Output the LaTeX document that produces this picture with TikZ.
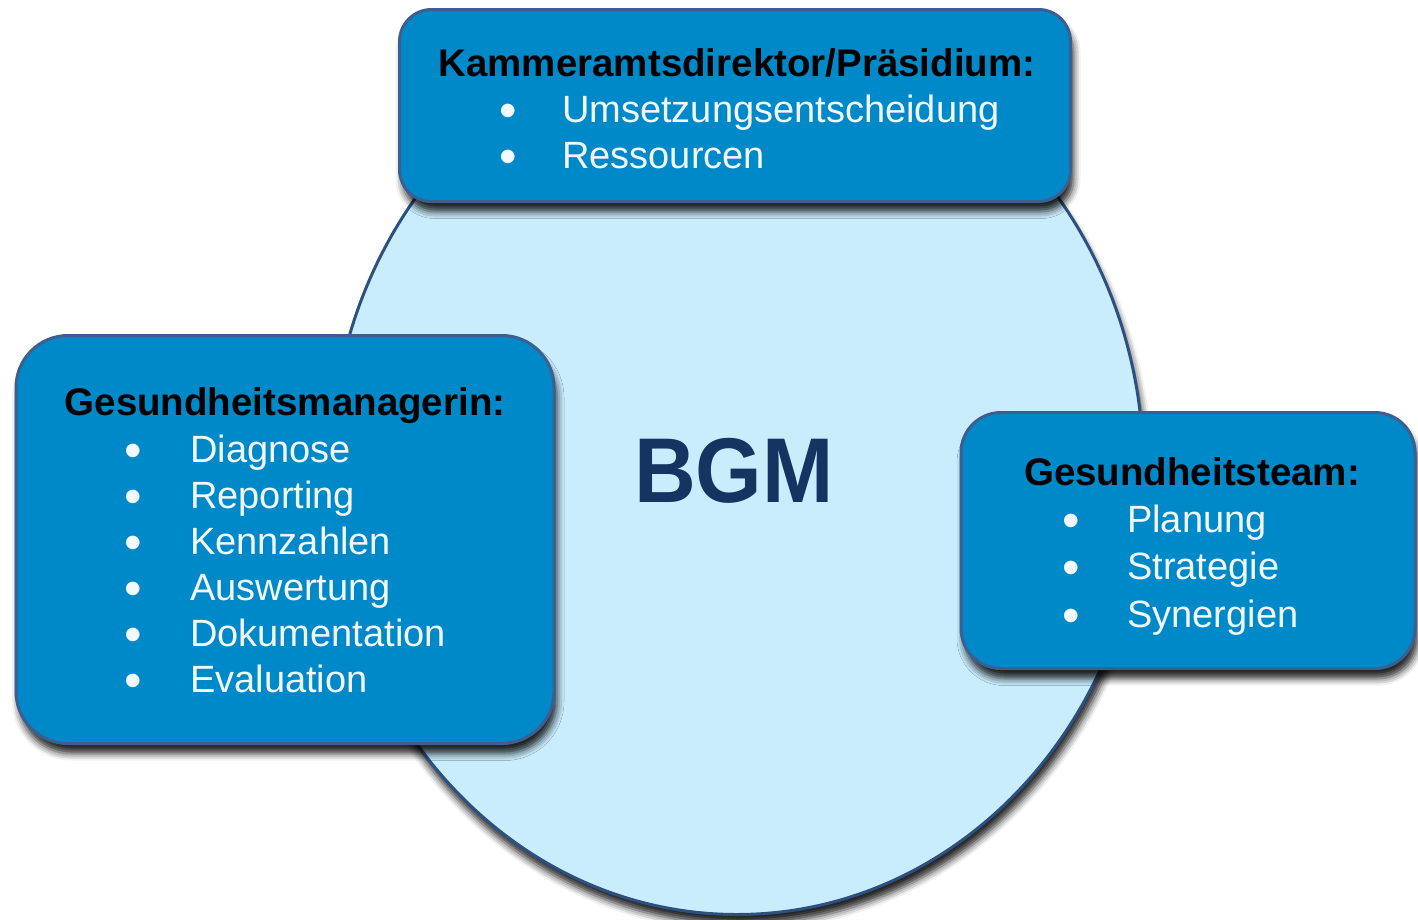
\documentclass[tikz,border=0pt]{standalone}
\usepackage{fontspec}
\setmainfont{Liberation Sans}
\usepackage{array}
\usetikzlibrary{shapes.geometric,shadows.blur}

\definecolor{boxblau}{HTML}{0089C9}
\definecolor{randblau}{HTML}{3C5F91}
\definecolor{kreisblau}{HTML}{CAEDFE}
\definecolor{kreisrand}{HTML}{2D5080}
\definecolor{bgmblau}{HTML}{163461}
\definecolor{textweiss}{HTML}{F2F9FF}

\newcommand{\punkt}{\raisebox{-5pt}{\fontsize{50}{46}\selectfont\textbullet}}

\begin{document}
\begin{tikzpicture}[x=1pt, y=-1pt,
    schatten/.style={blur shadow={shadow xshift=3pt, shadow yshift=-10pt,
        shadow blur radius=7pt, shadow opacity=85}},
    rolle/.style={draw=randblau, line width=3pt, fill=boxblau, inner sep=0pt,
        rounded corners=#1, schatten},
    kopf/.style={font=\fontsize{38.5}{46}\selectfont\bfseries, text=black,
        inner sep=0pt, anchor=base},
    liste/.style={font=\fontsize{38}{46}\selectfont, text=textweiss,
        inner sep=0pt, anchor=base west}]
    \useasboundingbox (0,0) rectangle (1418,919);

    % BGM ellipse
    \node[draw=kreisrand, line width=3pt, fill=kreisblau, ellipse, inner sep=0pt,
        minimum width=813pt, minimum height=889pt, schatten] (kreis) at (737,470) {};
    \node[font=\fontsize{92}{92}\selectfont\bfseries, text=bgmblau] (bgm) at (734,471)
        {\scalebox{0.93}[1]{BGM}};

    % Kammeramtsdirektor / Praesidium
    \node[rolle=32pt, minimum width=671pt, minimum height=192pt] (oben) at (735,105.5) {};
    \node[kopf] (kopfoben) at (737,76) {Kammeramtsdirektor/Präsidium:};
    \node[liste] (listeoben) at (488,122) {\begin{tabular}[t]{@{}wc{40pt}@{\hspace{34pt}}l@{}}
        \punkt & Umsetzungsentscheidung\\
        \punkt & Ressourcen
    \end{tabular}};

    % Gesundheitsmanagerin
    \node[rolle=52pt, minimum width=538pt, minimum height=408pt] (links) at (285,539.5) {};
    \node[kopf] (kopflinks) at (285,415) {Gesundheitsmanagerin:};
    \node[liste] (listelinks) at (113,462) {\begin{tabular}[t]{@{}wc{40pt}@{\hspace{37pt}}l@{}}
        \punkt & Diagnose\\
        \punkt & Reporting\\
        \punkt & Kennzahlen\\
        \punkt & Auswertung\\
        \punkt & Dokumentation\\
        \punkt & Evaluation
    \end{tabular}};

    % Gesundheitsteam
    \node[rolle=40pt, minimum width=454pt, minimum height=256pt] (rechts) at (1188,540.5) {};
    \node[kopf] (kopfrechts) at (1192,485) {Gesundheitsteam:};
    \node[liste] (listerechts) at (1051,532) {\begin{tabular}[t]{@{}wc{40pt}@{\hspace{36pt}}l@{}}
        \punkt & Planung\\[1.5pt]
        \punkt & Strategie\\[1.5pt]
        \punkt & Synergien
    \end{tabular}};
\end{tikzpicture}
\end{document}
